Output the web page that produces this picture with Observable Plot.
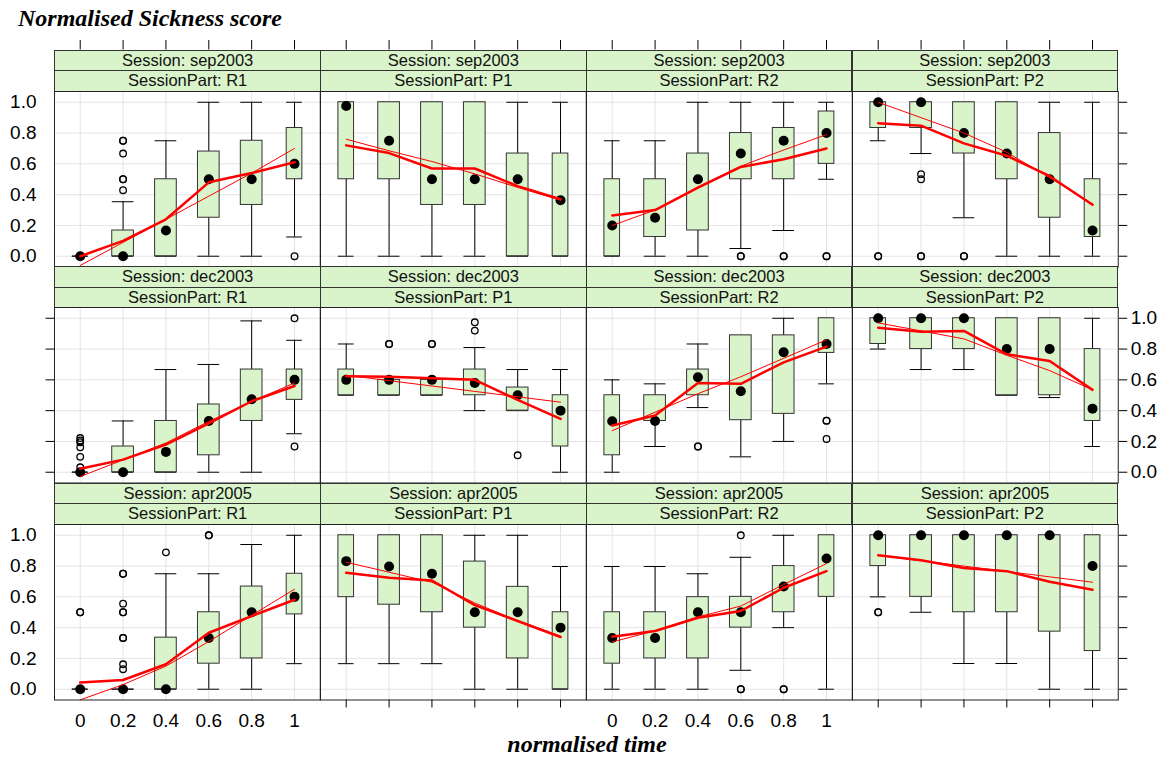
<!DOCTYPE html>
<html>
<head>
<meta charset="utf-8">
<script src="https://cdn.jsdelivr.net/npm/d3@7"></script>
<script src="https://cdn.jsdelivr.net/npm/@observablehq/plot@0.6"></script>
<style>
  html, body { margin: 0; padding: 0; background: #ffffff; }
  #chart { position: relative; width: 1170px; height: 758px; overflow: hidden; background: #ffffff;
           font-family: "Liberation Sans", Arial, sans-serif; }
  .strip { position: absolute; box-sizing: border-box; background: #d9f3cb; border: 1px solid #333;
           text-align: center; font-family: "Liberation Sans", Arial, sans-serif; font-size: 16.5px; color: #111; white-space: nowrap; }
  .ttl { position: absolute; font-family: "Liberation Serif", "DejaVu Serif", serif; font-style: italic;
         font-weight: bold; font-size: 24px; line-height: 24px; color: #000; white-space: nowrap; }
  #chart svg { position: absolute; }
</style>
</head>
<body>
<div id="chart">
  <div class="ttl" id="title" style="left:18px; top:6px;">Normalised Sickness score</div>
  <div class="ttl" id="xlab" style="left:0; width:1170px; padding-left:2px; text-align:center; top:732px;">normalised time</div>
</div>
<script>
// ---------------- DATA ----------------
const times = [0, 0.2, 0.4, 0.6, 0.8, 1];
const xTickLabels = ["0", "0.2", "0.4", "0.6", "0.8", "1"];
const yTicks = [0, 0.2, 0.4, 0.6, 0.8, 1];
const yTickLabels = ["0.0", "0.2", "0.4", "0.6", "0.8", "1.0"];
const sessions = ["sep2003", "dec2003", "apr2005"];
const parts = ["R1", "P1", "R2", "P2"];
// relative group sizes per time point (box widths are proportional to sqrt(n))
const counts = [12, 23, 23, 23, 23, 12];

// box statistics per time point: [lower whisker, Q1, median, Q3, upper whisker]
// mean: thick red line ; fit: thin red line ; out: outliers [time, value]
const sep2003_R1_box = [[0,0,0,0,0],[0,0,0,0.167,0.354],[0,0,0.167,0.5,0.75],[0,0.25,0.5,0.68,1],[0,0.333,0.5,0.75,1],[0.125,0.5,0.6,0.833,1]];
const sep2003_R1_mean = [0, 0.10, 0.24, 0.48, 0.54, 0.61];
const sep2003_R1_fit = [-0.06, 0.09, 0.24, 0.39, 0.54, 0.70];
const sep2003_R1_out = [[0.2,0.75],[0.2,0.75],[0.2,0.667],[0.2,0.5],[0.2,0.5],[0.2,0.429],[1,0]];

const sep2003_P1_box = [[0,0.5,0.976,1,1],[0,0.5,0.75,1,1],[0,0.333,0.5,1,1],[0,0.333,0.5,1,1],[0,0,0.5,0.667,1],[0,0,0.364,0.667,1]];
const sep2003_P1_mean = [0.72, 0.67, 0.57, 0.57, 0.455, 0.37];
const sep2003_P1_fit = [0.76, 0.685, 0.615, 0.535, 0.447, 0.364];
const sep2003_P1_out = [];

const sep2003_R2_box = [[0,0,0.2,0.5,0.75],[0,0.125,0.25,0.5,0.75],[0,0.167,0.5,0.667,1],[0.05,0.5,0.667,0.8,1],[0.167,0.5,0.75,0.833,1],[0.5,0.6,0.8,0.94,1]];
const sep2003_R2_mean = [0.265, 0.30, 0.445, 0.58, 0.63, 0.70];
const sep2003_R2_fit = [0.20, 0.30, 0.45, 0.585, 0.69, 0.79];
const sep2003_R2_out = [[0.6,0],[0.6,0],[0.8,0],[0.8,0],[1,0],[1,0]];

const sep2003_P2_box = [[0.75,0.833,1,1,1],[0.667,0.833,1,1,1],[0.25,0.667,0.8,1,1],[0,0.5,0.667,1,1],[0,0.25,0.5,0.8,1],[0,0.125,0.167,0.5,1]];
const sep2003_P2_mean = [0.863, 0.848, 0.733, 0.653, 0.52, 0.334];
const sep2003_P2_fit = [1.0, 0.90, 0.80, 0.675, 0.51, 0.34];
const sep2003_P2_out = [[0,0],[0,0],[0.2,0.533],[0.2,0.5],[0.2,0],[0.2,0],[0.4,0],[0.4,0]];

const dec2003_R1_box = [[0,0,0,0,0],[0,0,0,0.167,0.333],[0,0,0.132,0.333,0.667],[0,0.11,0.333,0.44,0.70],[0,0.333,0.474,0.667,0.983],[0.25,0.47,0.6,0.667,0.857]];
const dec2003_R1_mean = [0.022, 0.082, 0.18, 0.318, 0.461, 0.56];
const dec2003_R1_fit = [-0.028, 0.08, 0.19, 0.33, 0.46, 0.58];
const dec2003_R1_out = [[0,0.222],[0,0.206],[0,0.195],[0,0.162],[0,0.1],[0,0.032],[1,1],[1,0.167]];

const dec2003_P1_box = [[0.5,0.5,0.6,0.667,0.833],[0.5,0.5,0.6,0.6,0.6],[0.5,0.5,0.6,0.6,0.6],[0.4,0.5,0.58,0.667,0.81],[0.4,0.4,0.5,0.55,0.667],[0,0.167,0.4,0.5,0.667]];
const dec2003_P1_mean = [0.623, 0.62, 0.61, 0.60, 0.47, 0.346];
const dec2003_P1_fit = [0.63, 0.595, 0.56, 0.525, 0.49, 0.455];
const dec2003_P1_out = [[0.2,0.833],[0.2,0.833],[0.4,0.833],[0.4,0.833],[0.6,0.92],[0.6,0.974],[0.8,0.11]];

const dec2003_R2_box = [[0,0.11,0.331,0.5,0.6],[0.167,0.333,0.333,0.5,0.574],[0.42,0.5,0.617,0.667,0.833],[0.1,0.338,0.526,0.889,0.889],[0.2,0.379,0.779,0.889,1],[0.574,0.775,0.833,1,1]];
const dec2003_R2_mean = [0.303, 0.368, 0.58, 0.574, 0.714, 0.816];
const dec2003_R2_fit = [0.27, 0.39, 0.51, 0.62, 0.74, 0.86];
const dec2003_R2_out = [[0.4,0.167],[0.4,0.167],[1,0.335],[1,0.335],[1,0.216]];

const dec2003_P2_box = [[0.8,0.833,1,1,1],[0.667,0.8,1,1,1],[0.667,0.8,1,1,1],[0.5,0.5,0.8,1,1],[0.485,0.5,0.8,1,1],[0.167,0.333,0.413,0.8,1]];
const dec2003_P2_mean = [0.939, 0.913, 0.918, 0.766, 0.723, 0.535];
const dec2003_P2_fit = [0.97, 0.918, 0.866, 0.76, 0.66, 0.535];
const dec2003_P2_out = [];

const apr2005_R1_box = [[0,0,0,0,0],[0,0,0,0,0],[0,0,0,0.335,0.75],[0,0.166,0.333,0.5,0.75],[0,0.2,0.5,0.667,0.94],[0.166,0.486,0.6,0.75,1]];
const apr2005_R1_mean = [0.043, 0.06, 0.162, 0.367, 0.475, 0.581];
const apr2005_R1_fit = [-0.069, 0.03, 0.15, 0.31, 0.48, 0.65];
const apr2005_R1_out = [[0,0.5],[0,0.5],[0.2,0.75],[0.2,0.75],[0.2,0.556],[0.2,0.5],[0.2,0.5],[0.2,0.333],[0.2,0.333],[0.2,0.162],[0.2,0.13],[0.4,0.889],[0.6,1],[0.6,1]];

const apr2005_P1_box = [[0.166,0.598,0.832,1,1],[0.166,0.549,0.797,1,1],[0.166,0.5,0.75,1,1],[0,0.4,0.5,0.829,1],[0,0.2,0.5,0.665,1],[0,0,0.4,0.5,0.797]];
const apr2005_P1_mean = [0.756, 0.724, 0.706, 0.546, 0.443, 0.339];
const apr2005_P1_fit = [0.825, 0.76, 0.695, 0.56, 0.445, 0.345];
const apr2005_P1_out = [];

const apr2005_R2_box = [[0,0.166,0.333,0.5,0.797],[0,0.2,0.333,0.5,0.797],[0,0.2,0.5,0.598,0.75],[0.123,0.4,0.5,0.6,0.857],[0.4,0.5,0.667,0.8,1],[0,0.6,0.849,1,1]];
const apr2005_R2_mean = [0.341, 0.378, 0.464, 0.508, 0.659, 0.767];
const apr2005_R2_fit = [0.307, 0.38, 0.47, 0.54, 0.68, 0.816];
const apr2005_R2_out = [[0.6,1],[0.6,0],[0.6,0],[0.8,0],[0.8,0]];

const apr2005_P2_box = [[0.6,0.8,1,1,1],[0.5,0.6,1,1,1],[0.167,0.5,1,1,1],[0.167,0.5,1,1,1],[0,0.374,1,1,1],[0,0.248,0.8,1,1]];
const apr2005_P2_mean = [0.87, 0.838, 0.788, 0.767, 0.698, 0.646];
const apr2005_P2_fit = [0.87, 0.835, 0.80, 0.765, 0.73, 0.695];
const apr2005_P2_out = [[0,0.5],[0,0.5]];

// ---------------- LAYOUT ----------------
const panelSets = [
  [sep2003_R1_box, sep2003_R1_mean, sep2003_R1_fit, sep2003_R1_out],
  [sep2003_P1_box, sep2003_P1_mean, sep2003_P1_fit, sep2003_P1_out],
  [sep2003_R2_box, sep2003_R2_mean, sep2003_R2_fit, sep2003_R2_out],
  [sep2003_P2_box, sep2003_P2_mean, sep2003_P2_fit, sep2003_P2_out],
  [dec2003_R1_box, dec2003_R1_mean, dec2003_R1_fit, dec2003_R1_out],
  [dec2003_P1_box, dec2003_P1_mean, dec2003_P1_fit, dec2003_P1_out],
  [dec2003_R2_box, dec2003_R2_mean, dec2003_R2_fit, dec2003_R2_out],
  [dec2003_P2_box, dec2003_P2_mean, dec2003_P2_fit, dec2003_P2_out],
  [apr2005_R1_box, apr2005_R1_mean, apr2005_R1_fit, apr2005_R1_out],
  [apr2005_P1_box, apr2005_P1_mean, apr2005_P1_fit, apr2005_P1_out],
  [apr2005_R2_box, apr2005_R2_mean, apr2005_R2_fit, apr2005_R2_out],
  [apr2005_P2_box, apr2005_P2_mean, apr2005_P2_fit, apr2005_P2_out]
];

const W = 265.75, H = 175.5;
const colLeft = [54.3, 320, 585.7, 851.5];
const stripTop = [49.5, 266, 482.5];
const stripH = 20.5;
const xDom = [-0.12, 1.12], yDom = [-0.07, 1.07];
const maxHalf = 0.0506;
const maxCount = d3.max(counts);
const green = "#d9f3cb";
const gridColor = "#e4e4e4";
const fontStyle = {background: "transparent", overflow: "visible", fontFamily: "'Liberation Sans', Arial, sans-serif",
                   fontSize: "19px", color: "#000"};
const chart = document.getElementById("chart");

// top tick marks above the first row of strips
colLeft.forEach(cl => {
  const svg = Plot.plot({
    width: W + 2, height: 9.5, marginLeft: 1, marginRight: 1, marginTop: 0, marginBottom: 0,
    x: {domain: xDom, axis: null}, y: {axis: null},
    style: fontStyle,
    marks: [Plot.ruleX(times, {stroke: "#000", strokeWidth: 1})]
  });
  svg.style.left = (cl - 1) + "px";
  svg.style.top = (stripTop[0] - 9.5) + "px";
  chart.appendChild(svg);
});

panelSets.forEach(([box, mean, fit, out], i) => {
  const r = Math.floor(i / 4), c = i % 4;
  const session = sessions[r], part = parts[c];
  const pTop = stripTop[r] + 2 * stripH;

  // strips
  [`Session: ${session}`, `SessionPart: ${part}`].forEach((txt, k) => {
    const d = document.createElement("div");
    d.className = "strip";
    d.textContent = txt;
    d.style.left = colLeft[c] + "px";
    d.style.top = (stripTop[r] + k * stripH) + "px";
    d.style.width = (W + 1) + "px";
    d.style.height = (stripH + 1) + "px";
    d.style.lineHeight = (stripH - 1) + "px";
    chart.appendChild(d);
  });

  const rows = times.map((t, j) => ({
    t, lo: box[j][0], q1: box[j][1], med: box[j][2], q3: box[j][3], hi: box[j][4],
    hw: maxHalf * Math.sqrt(counts[j] / maxCount)
  }));
  const meanRows = times.map((t, j) => ({t, v: mean[j]}));
  const fitRows = times.map((t, j) => ({t, v: fit[j]}));
  const outRows = out.map(([t, v]) => ({t, v}));

  const marks = [
    Plot.gridX(times, {stroke: gridColor, strokeOpacity: 1, strokeWidth: 1}),
    Plot.gridY(yTicks, {stroke: gridColor, strokeOpacity: 1, strokeWidth: 1}),
    Plot.ruleX(rows, {x: "t", y1: "lo", y2: "q1", stroke: "#000", strokeWidth: 1}),
    Plot.ruleX(rows, {x: "t", y1: "q3", y2: "hi", stroke: "#000", strokeWidth: 1}),
    Plot.ruleY(rows, {y: "lo", x1: d => d.t - d.hw, x2: d => d.t + d.hw, stroke: "#000", strokeWidth: 1}),
    Plot.ruleY(rows, {y: "hi", x1: d => d.t - d.hw, x2: d => d.t + d.hw, stroke: "#000", strokeWidth: 1}),
    Plot.rect(rows, {x1: d => d.t - d.hw, x2: d => d.t + d.hw, y1: "q1", y2: "q3", fill: green, stroke: "#333", strokeWidth: 1}),
    Plot.ruleY(rows.filter(d => d.q1 === d.q3), {y: "q1", x1: d => d.t - d.hw, x2: d => d.t + d.hw, stroke: "#333", strokeWidth: 1.2}),
    Plot.dot(outRows, {x: "t", y: "v", r: 3.3, stroke: "#000", strokeWidth: 1.3, fill: "none"}),
    Plot.dot(rows, {x: "t", y: "med", r: 5, fill: "#000", stroke: "none"}),
    Plot.line(fitRows, {x: "t", y: "v", stroke: "#ff0000", strokeWidth: 1}),
    Plot.line(meanRows, {x: "t", y: "v", stroke: "#ff0000", strokeWidth: 2.5}),
    Plot.frame({stroke: "#222", strokeWidth: 1})
  ];

  // y axes (alternating between left and right, outer columns only)
  const leftLabels = (r !== 1);
  if (c === 0) {
    marks.push(Plot.axisY(yTicks, {
      anchor: "left", label: null, tickSize: leftLabels ? 0 : 8.5, tickPadding: leftLabels ? 18 : 3,
      tickFormat: leftLabels ? (d, k) => yTickLabels[k] : () => "", fontSize: 19
    }));
  }
  if (c === 3) {
    marks.push(Plot.axisY(yTicks, {
      anchor: "right", label: null, tickSize: 8.5, tickPadding: 4,
      tickFormat: leftLabels ? () => "" : (d, k) => yTickLabels[k], fontSize: 19
    }));
  }
  // x axis at the bottom row (alternating labels)
  if (r === 2) {
    const lab = (c % 2 === 0);
    marks.push(Plot.axisX(times, {
      anchor: "bottom", label: null, tickSize: lab ? 0 : 8, tickPadding: lab ? 13.5 : 3,
      tickFormat: lab ? (d, k) => xTickLabels[k] : () => "", fontSize: 19
    }));
  }

  const mL = 60, mR = 60, mT = 4, mB = 40;
  const svg = Plot.plot({
    width: mL + W + mR, height: mT + H + mB,
    marginLeft: mL, marginRight: mR, marginTop: mT, marginBottom: mB,
    x: {domain: xDom, axis: null}, y: {domain: yDom, axis: null},
    style: fontStyle,
    marks
  });
  svg.style.left = (colLeft[c] - mL) + "px";
  svg.style.top = (pTop - mT) + "px";
  chart.appendChild(svg);
});
</script>
</body>
</html>
